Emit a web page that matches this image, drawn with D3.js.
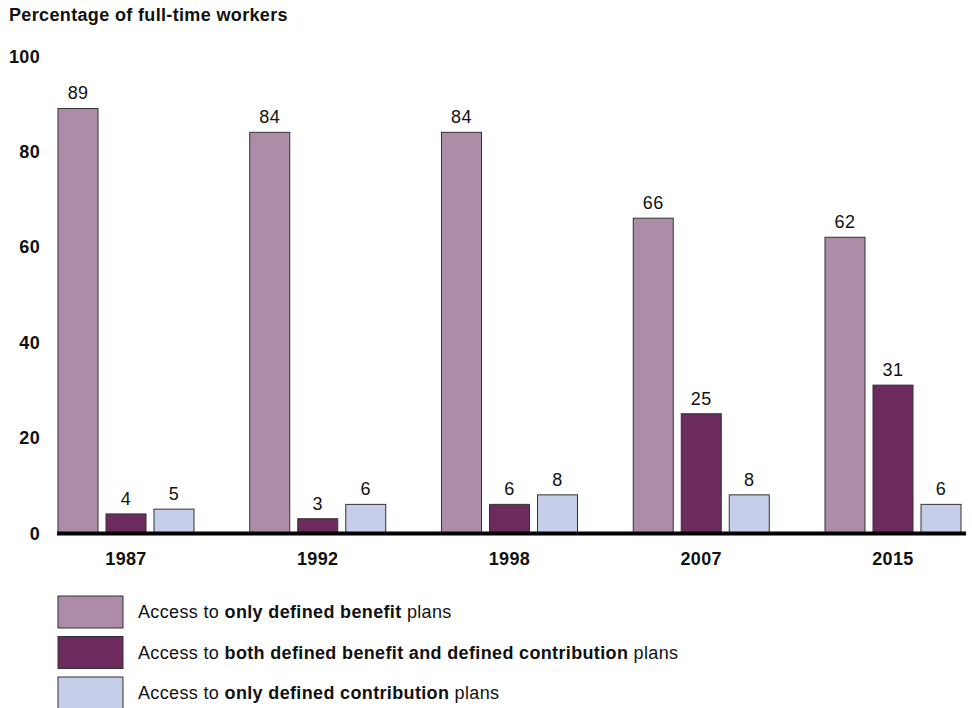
<!DOCTYPE html>
<html>
<head>
<meta charset="utf-8">
<script src="https://cdn.jsdelivr.net/npm/d3@7"></script>
<style>
  body { margin: 0; background: #fff; }
  svg { display: block; font-family: "Liberation Sans", Arial, sans-serif; letter-spacing: 0.35px; }
</style>
</head>
<body>
<svg id="chart" width="972" height="708"></svg>
<script>
const years = ["1987", "1992", "1998", "2007", "2015"];
const onlyDB = [89, 84, 84, 66, 62];
const bothDBDC = [4, 3, 6, 25, 31];
const onlyDC = [5, 6, 8, 8, 6];
const yTicks = [0, 20, 40, 60, 80, 100];
const seriesNames = [
  ["Access to ", "only defined benefit", " plans"],
  ["Access to ", "both defined benefit and defined contribution", " plans"],
  ["Access to ", "only defined contribution", " plans"]
];
const colors = ["#ad8ca8", "#6d2b5d", "#c6cde8"];
const yTitle = "Percentage of full-time workers";

const series = [onlyDB, bothDBDC, onlyDC];
const svg = d3.select("#chart");
const FS = 18;

const y = d3.scaleLinear().domain([0, 100]).range([533, 56]);
const x0 = d3.scaleBand().domain(years).range([58, 961]).paddingInner(0.2907).paddingOuter(0);
const x1 = d3.scaleBand().domain([0, 1, 2]).range([0, x0.bandwidth()]).paddingInner(8 / 48).paddingOuter(0);

// title
svg.append("text").attr("x", 9).attr("y", 21)
  .attr("font-size", FS).attr("font-weight", "bold").attr("fill", "#111")
  .text(yTitle);

// y tick labels
svg.append("g").selectAll("text").data(yTicks).join("text")
  .attr("x", 40).attr("y", d => y(d) + 6.5)
  .attr("text-anchor", "end").attr("font-size", FS).attr("font-weight", "bold").attr("fill", "#111")
  .text(d => d);

// bars
const groups = svg.append("g").selectAll("g").data(years).join("g")
  .attr("transform", d => `translate(${x0(d)},0)`);

groups.each(function(yr, i) {
  const g = d3.select(this);
  const vals = series.map((s, k) => ({ k, v: s[i] }));
  g.selectAll("rect").data(vals).join("rect")
    .attr("x", d => x1(d.k)).attr("width", x1.bandwidth())
    .attr("y", d => y(d.v)).attr("height", d => y(0) - y(d.v))
    .attr("fill", d => colors[d.k]).attr("stroke", "#333").attr("stroke-width", 1);
  g.selectAll("text.val").data(vals).join("text").attr("class", "val")
    .attr("x", d => x1(d.k) + x1.bandwidth() / 2).attr("y", d => y(d.v) - 9)
    .attr("text-anchor", "middle").attr("font-size", FS).attr("fill", "#111")
    .text(d => d.v);
  g.append("text")
    .attr("x", x1(1) + x1.bandwidth() / 2).attr("y", 565)
    .attr("text-anchor", "middle").attr("font-size", FS).attr("font-weight", "bold").attr("fill", "#111")
    .text(yr);
});

// baseline
svg.append("line").attr("x1", 57).attr("x2", 966).attr("y1", y(0) + 0.5).attr("y2", y(0) + 0.5)
  .attr("stroke", "#000").attr("stroke-width", 4);

// legend
const legend = svg.append("g").selectAll("g").data(seriesNames).join("g")
  .attr("transform", (d, i) => `translate(58,${596 + i * 40.5})`);
legend.append("rect").attr("x", 0).attr("y", 0).attr("width", 65).attr("height", 32)
  .attr("fill", (d, i) => colors[i]).attr("stroke", "#333").attr("stroke-width", 1);
const lt = legend.append("text").attr("x", 80).attr("y", 22).attr("font-size", FS).attr("fill", "#111");
lt.append("tspan").text(d => d[0]);
lt.append("tspan").attr("font-weight", "bold").text(d => d[1]);
lt.append("tspan").text(d => d[2]);
</script>
</body>
</html>
